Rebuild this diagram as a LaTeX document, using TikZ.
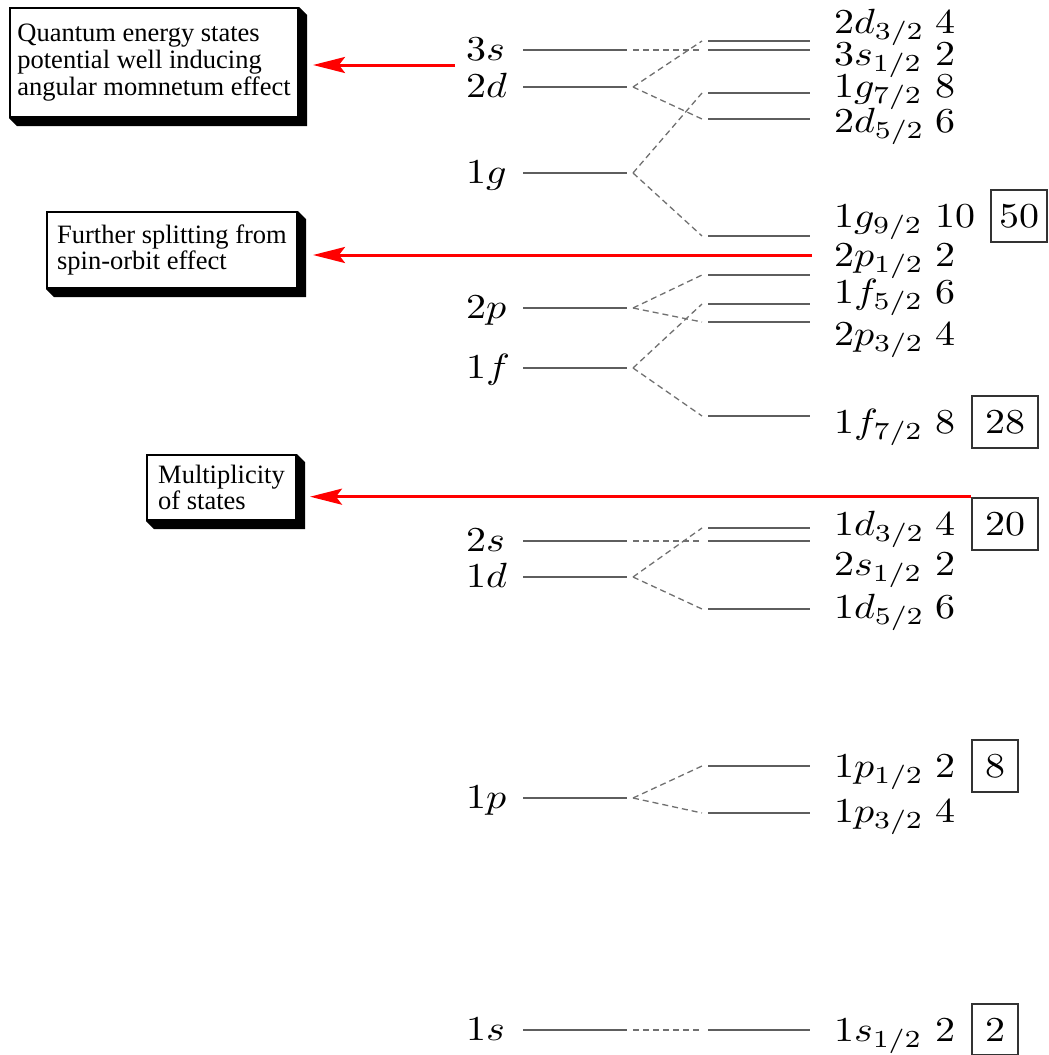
\documentclass[tikz,border=0pt]{standalone}
\usepackage{fontspec}
\usepackage{graphicx}
\usetikzlibrary{arrows.meta,calc}
\newfontfamily\notefont{Liberation Serif}
\definecolor{lvlgray}{HTML}{5E5E5E}
\definecolor{dashgray}{HTML}{707070}
\definecolor{boxgray}{HTML}{333333}
\newcommand{\SL}[1]{\scalebox{2}[1.75]{#1}}
\tikzset{
  lvlnode/.style={minimum height=0pt, inner sep=0pt, outer sep=0pt},
  lvlline/.style={draw=lvlgray, line width=1.1pt},
  split/.style={draw=dashgray, line width=0.65pt, dash pattern=on 3pt off 2pt},
  lab/.style={inner sep=0pt, outer sep=0pt, anchor=base west},
  magic/.style={draw=boxgray, line width=1pt, inner xsep=6.5pt, inner ysep=7pt, anchor=base west},
  note/.style={draw=black, line width=1pt, fill=white, align=left, inner sep=0pt,
    font=\notefont\fontsize{13.25}{13.35}\selectfont},
  redarrow/.style={draw=red, line width=1.5pt, -{Stealth[length=16pt,width=8pt,inset=3pt]}},
}
\begin{document}
\begin{tikzpicture}[x=0.5pt,y=0.5pt]
\useasboundingbox (0,0) rectangle (1049,-1055);

% left (unsplit) levels
\foreach \n/\y in {3s/50, 2d/87, 1g/173, 2p/308, 1f/368, 2s/541, 1d/577, 1p/798, 1s/1030}{
  \node[lvlnode, minimum width=52pt] (L\n) at (575,-\y) {};
  \draw[lvlline] (L\n.west) -- (L\n.east);
  \node[lab] (LL\n) at (466,-\y-10.5) {\SL{$\n$}};
}

% right (split) levels
\foreach \n/\lab/\m/\y/\b in {
  r2d3/{2d_{3/2}}/4/41/33,
  r3s1/{3s_{1/2}}/2/50/65,
  r1g7/{1g_{7/2}}/8/93/97,
  r2d5/{2d_{5/2}}/6/119/132,
  r1g9/{1g_{9/2}}/10/236/227,
  r2p1/{2p_{1/2}}/2/275/266,
  r1f5/{1f_{5/2}}/6/304/303,
  r2p3/{2p_{3/2}}/4/322/345,
  r1f7/{1f_{7/2}}/8/416/433,
  r1d3/{1d_{3/2}}/4/528/535,
  r2s1/{2s_{1/2}}/2/541/575,
  r1d5/{1d_{5/2}}/6/609/618,
  r1p1/{1p_{1/2}}/2/766/777,
  r1p3/{1p_{3/2}}/4/813/822,
  r1s1/{1s_{1/2}}/2/1030/1041}{
  \node[lvlnode, minimum width=51pt] (\n) at (759,-\y) {};
  \draw[lvlline] (\n.west) -- (\n.east);
  \node[lab] (t\n) at (834,-\b) {\SL{$\lab$}};
  \node[lab] (m\n) at (935,-\b) {\SL{\m}};
}

% splitting connectors
\foreach \a/\c in {3s/r3s1, 2d/r2d3, 2d/r2d5, 1g/r1g7, 1g/r1g9, 2p/r2p1, 2p/r2p3,
  1f/r1f5, 1f/r1f7, 2s/r2s1, 1d/r1d3, 1d/r1d5, 1p/r1p1, 1p/r1p3, 1s/r1s1}{
  \draw[split] ([xshift=3pt]L\a.east) -- ([xshift=-3pt]\c.west);
}

% magic numbers
\node[magic, inner xsep=4pt] (b50) at ([xshift=7.5pt]mr1g9.base east) {\SL{50}};
\node[magic] (b28) at ([xshift=8pt]mr1f7.base east) {\SL{28}};
\node[magic] (b20) at ([xshift=8pt]mr1d3.base east) {\SL{20}};
\node[magic] (b8) at ([xshift=8pt]mr1p1.base east) {\SL{8}};
\node[magic] (b2) at ([xshift=8pt]mr1s1.base east) {\SL{2}};

% annotation boxes
\node[note, minimum width=144pt, minimum height=54.5pt] (box1) at (154,-62.5)
  {Quantum energy states\\potential well inducing\\angular momnetum effect};
\node[note, minimum width=125pt, minimum height=38pt] (box2) at (172,-250)
  {Further splitting from\\spin-orbit effect};
\node[note, minimum width=74.5pt, minimum height=32.5pt] (box3) at (221.5,-487.5)
  {Multiplicity\\of states};
\foreach \bx in {box1,box2,box3}{
  \fill[black] (\bx.north east) -- ([shift={(8,-8)}]\bx.north east)
    -- ([shift={(8,-8)}]\bx.south east) -- ([shift={(8,-8)}]\bx.south west)
    -- (\bx.south west) -- (\bx.south east) -- cycle;
}

% red arrows
\coordinate (a1) at (455,-65);
\coordinate (t1) at (313,-65);
\coordinate (a2) at (812,-255);
\coordinate (t2) at (313,-255);
\coordinate (t3) at (310,0);
\draw[redarrow] (a1) -- (t1);
\draw[redarrow] (a2) -- (t2);
\draw[redarrow] (b20.north west) -- (b20.north west -| t3);
\end{tikzpicture}
\end{document}
